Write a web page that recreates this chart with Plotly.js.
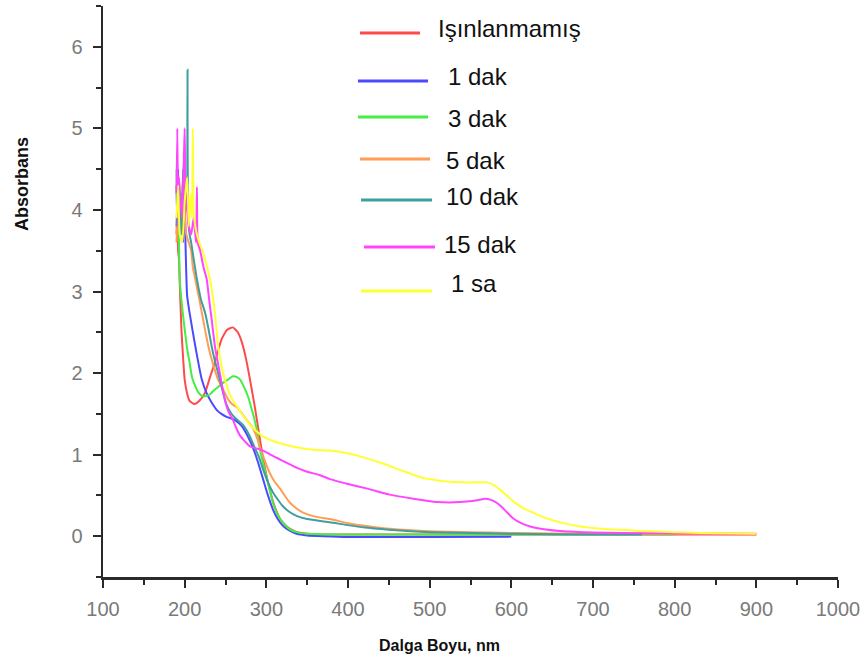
<!DOCTYPE html>
<html>
<head>
<meta charset="utf-8">
<script src="https://cdn.plot.ly/plotly-3.0.1.min.js"></script>
<style>html,body{margin:0;padding:0;background:#fff;}#chart{width:866px;height:662px;}</style>
</head>
<body>
<div id="chart"></div>
<script>
// ---- data (wavelength nm, absorbance) ----
const seriesNames = ["Işınlanmamış", "1 dak", "3 dak", "5 dak", "10 dak", "15 dak", "1 sa"];

const redX = [190,191,192,193,194,196,198,200,203,206,212,218,225,231,237,245,252,259,265,270,275,280,286,292,298,304,310,317,325,335,345,360,400,500,600,700,800,900];
const redY = [3.7,4.0,3.5,3.4,3.1,2.54,2.2,1.92,1.75,1.66,1.62,1.66,1.76,1.95,2.13,2.41,2.53,2.56,2.5,2.38,2.18,1.92,1.58,1.2,0.85,0.58,0.37,0.21,0.12,0.06,0.035,0.025,0.02,0.02,0.02,0.02,0.02,0.02];

const blueX = [190,191,192,193,194,196,198,199,201,203,206,213,221,227,233,240,245,252,258,262,270,277,285,290,296,302,308,314,320,328,337,350,370,400,500,600];
const blueY = [4.3,3.8,4.5,4.0,3.7,4.2,3.6,4.7,3.6,2.95,2.74,2.33,1.92,1.75,1.64,1.54,1.5,1.46,1.44,1.42,1.35,1.23,1.05,0.9,0.7,0.5,0.33,0.21,0.13,0.07,0.03,0.01,0.0,-0.01,-0.01,-0.005];

const greenX = [190,191,192,193,194,197,200,203,206,209,213,217,221,226,231,236,241,247,253,259,264,268,274,278,282,285,288,292,296,300,308,314,320,328,337,350,400,500,600,700,800];
const greenY = [4.5,3.9,4.2,3.6,3.15,2.8,2.54,2.3,2.13,1.95,1.84,1.76,1.72,1.72,1.74,1.79,1.83,1.88,1.92,1.96,1.95,1.92,1.8,1.7,1.56,1.45,1.32,1.07,0.9,0.74,0.41,0.26,0.17,0.09,0.05,0.03,0.02,0.02,0.02,0.02,0.02];

const orangeX = [190,192,195,198,200,202,205,208,210,213,217,221,225,229,235,241,247,253,258,264,269,274,282,287,292,298,304,310,317,323,329,337,345,360,378,400,418,451,500,550,600,700,800,900];
const orangeY = [3.6,4.0,3.7,4.4,4.0,3.7,3.6,3.5,3.3,3.15,2.95,2.74,2.53,2.33,2.1,1.92,1.8,1.68,1.62,1.58,1.52,1.45,1.35,1.25,1.1,0.93,0.78,0.67,0.58,0.49,0.41,0.34,0.29,0.24,0.21,0.16,0.13,0.09,0.06,0.05,0.04,0.03,0.03,0.02];

const tealX = [190,192,194,196,198,200,202,203,203.5,204,206,208,211,215,220,225,229,233,237,241,247,251,256,260,264,270,274,280,286,291,296,302,308,314,320,328,337,350,378,418,450,500,600,700,760];
const tealY = [3.8,4.3,4.0,3.7,4.5,4.0,4.4,4.0,5.72,4.0,3.7,3.6,3.4,3.15,2.9,2.74,2.55,2.33,2.15,2.0,1.76,1.62,1.52,1.47,1.43,1.38,1.33,1.22,1.08,0.97,0.82,0.66,0.54,0.45,0.37,0.3,0.25,0.21,0.17,0.11,0.08,0.05,0.03,0.02,0.02];

const magentaX = [190,191,192,193,195,197,199,200,201,203,205,208,211,214,215,216,219,223,227,230,233,237,243,249,254,259,263,268,274,280,290,296,305,317,327,337,350,365,378,400,425,451,480,509,530,545,560,568,575,582,588,595,602,612,623,640,663,700,733,800,900];
const magentaY = [4.2,5.0,3.8,4.4,4.1,3.9,4.6,5.0,4.2,4.0,3.8,3.7,3.9,3.6,4.28,3.6,3.5,3.3,3.15,2.9,2.66,2.33,2.0,1.68,1.52,1.43,1.33,1.23,1.16,1.1,1.07,1.05,1.0,0.94,0.89,0.84,0.79,0.75,0.7,0.64,0.58,0.51,0.46,0.42,0.415,0.425,0.445,0.46,0.445,0.41,0.36,0.29,0.22,0.16,0.12,0.085,0.06,0.045,0.04,0.035,0.03];

const yellowX = [190,192,194,197,200,203,205,207,209,210,211,213,215,218,222,226,231,237,241,247,253,256,262,270,276,283,290,296,305,317,337,358,378,398,418,440,467,490,521,550,570,578,585,592,602,615,631,643,660,684,710,733,758,800,831,900];
const yellowY = [3.9,4.3,3.7,3.6,4.1,4.4,3.8,4.2,3.9,5.0,4.0,3.8,3.7,3.6,3.5,3.35,3.15,2.74,2.33,2.0,1.8,1.72,1.62,1.5,1.42,1.33,1.27,1.22,1.18,1.14,1.09,1.06,1.05,1.02,0.97,0.9,0.8,0.72,0.67,0.66,0.66,0.63,0.58,0.52,0.43,0.34,0.27,0.22,0.17,0.12,0.09,0.08,0.065,0.05,0.04,0.03];

const xTickVals = [100,200,300,400,500,600,700,800,900,1000];
const yTickVals = [0,1,2,3,4,5,6];
const xTitle = "Dalga Boyu, nm";
const yTitle = "Absorbans";

// ---- styling ----
const colors = ["#ff4a4a", "#4a4aff", "#45ee45", "#ff9c55", "#3f9e9e", "#ff45ff", "#ffff35"];
const allX = [redX, blueX, greenX, orangeX, tealX, magentaX, yellowX];
const allY = [redY, blueY, greenY, orangeY, tealY, magentaY, yellowY];

const traces = seriesNames.map((n, i) => ({
  type: "scatter", mode: "lines", name: n,
  x: allX[i], y: allY[i],
  line: {color: colors[i], width: 2, shape: "spline", smoothing: 0.5},
  showlegend: false, hoverinfo: "skip"
}));

// plot area in pixels
const L = 103, R = 838, T = 6, B = 577;
const px = v => (v - L) / (R - L);
const py = v => (B - v) / (B - T);

// custom legend (positions in pixels)
const legLines = [[360,420,33],[358,428,81],[358,428,117],[360,430,159],[361,432,200],[364,435,247],[361,432,291]];
const legText = [[436,29],[446,77],[446,118],[444,160],[444,196],[442,244],[449,283]];
const shapes = [];
const annotations = [];
seriesNames.forEach((n, i) => {
  const [x0, x1, y] = legLines[i];
  shapes.push({type: "line", xref: "paper", yref: "paper", x0: px(x0), x1: px(x1), y0: py(y), y1: py(y),
    line: {color: colors[i], width: 3}});
  const [tx, ty] = legText[i];
  annotations.push({xref: "paper", yref: "paper", x: px(tx), y: py(ty), xanchor: "left", yanchor: "middle",
    text: n, showarrow: false, font: {family: "Liberation Sans, Arial, sans-serif", size: 24, color: "#111"}});
});
annotations.push({xref: "paper", yref: "paper", x: px(439), y: py(645), xanchor: "center", yanchor: "middle",
  text: "<b>" + xTitle + "</b>", showarrow: false, font: {family: "Liberation Sans, Arial, sans-serif", size: 16, color: "#111"}});
annotations.push({xref: "paper", yref: "paper", x: px(22), y: py(184), xanchor: "center", yanchor: "middle", textangle: -90,
  text: "<b>" + yTitle + "</b>", showarrow: false, font: {family: "Liberation Sans, Arial, sans-serif", size: 18, color: "#111"}});

const axisCommon = {
  showgrid: false, zeroline: false, showline: true, linecolor: "#2a2a2a", linewidth: 2.5,
  ticks: "outside", ticklen: 8, tickwidth: 2, tickcolor: "#2a2a2a",
  tickfont: {family: "Liberation Sans, Arial, sans-serif", size: 20, color: "#7a7a7a"},
  mirror: false, fixedrange: true
};

const layout = {
  width: 866, height: 662,
  margin: {l: L, r: 866 - R, t: T, b: 662 - B, pad: 0},
  paper_bgcolor: "#ffffff", plot_bgcolor: "#ffffff",
  showlegend: false,
  xaxis: Object.assign({}, axisCommon, {
    range: [100, 1000], tickmode: "array", tickvals: xTickVals, ticktext: xTickVals.map(String),
    minor: {dtick: 50, tick0: 100, ticks: "outside", ticklen: 5, tickwidth: 2, tickcolor: "#2a2a2a", showgrid: false},
    ticklabelstandoff: 4
  }),
  yaxis: Object.assign({}, axisCommon, {
    range: [-0.5, 6.5], tickmode: "array", tickvals: yTickVals, ticktext: yTickVals.map(String),
    minor: {dtick: 0.5, tick0: 0, ticks: "outside", ticklen: 5, tickwidth: 2, tickcolor: "#2a2a2a", showgrid: false},
    ticklabelstandoff: 6
  }),
  shapes: shapes,
  annotations: annotations
};

Plotly.newPlot("chart", traces, layout, {displayModeBar: false, staticPlot: true});
</script>
</body>
</html>
